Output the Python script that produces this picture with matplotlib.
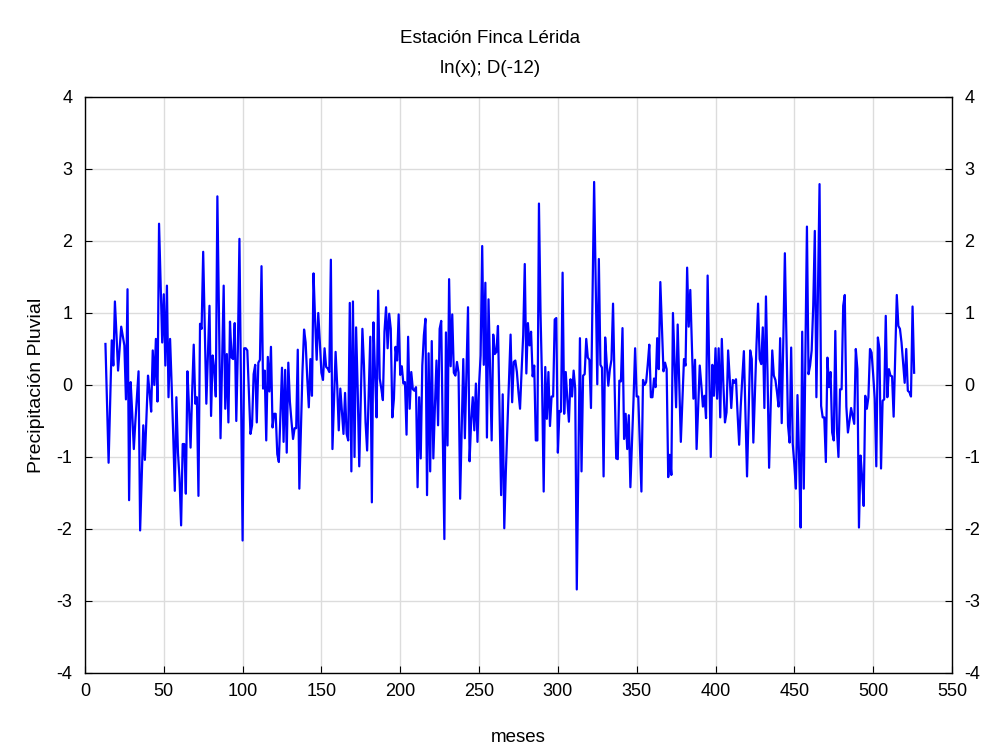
import numpy as np
import matplotlib.pyplot as plt

plt.rcParams['font.family'] = ['Liberation Sans', 'DejaVu Sans']
plt.rcParams['axes.unicode_minus'] = False

# serie diferenciada, un valor por mes (desde el mes 13)
first_month = 13
precip = [
    0.57, -0.25, -1.08, -0.2, 0.62, 0.27, 1.16, 0.7, 0.2, 0.5,
    0.81, 0.68, 0.55, -0.2, 1.33, -1.6, 0.04, -0.4, -0.89, -0.5,
    -0.15, 0.19, -2.02, -1.3, -0.56, -1.04, -0.45, 0.13, -0.1, -0.37,
    0.48, 0.0, 0.64, -0.23, 2.24, 1.4, 0.59, 1.26, 0.27, 1.38,
    -0.17, 0.64, 0.0, -0.7, -1.47, -0.17, -0.94, -1.3, -1.95, -0.82,
    -0.82, -1.51, 0.19, -0.3, -0.87, -0.1, 0.56, -0.26, -0.17, -1.54,
    0.85, 0.78, 1.85, 0.8, -0.26, 0.4, 1.1, -0.43, 0.41, 0.22,
    -0.16, 2.62, 1.0, -0.74, 0.3, 1.38, -0.33, 0.43, -0.52, 0.88,
    0.38, 0.36, 0.86, -0.5, 0.5, 2.03, -0.06, -2.16, 0.51, 0.51,
    0.48, -0.1, -0.68, -0.56, 0.15, 0.28, -0.52, 0.31, 0.35, 1.65,
    -0.05, 0.2, -0.77, 0.39, -0.09, 0.53, -0.59, -0.4, -0.4, -0.96,
    -1.07, -0.4, 0.24, -0.79, 0.21, -0.94, 0.31, -0.23, -0.5, -0.75,
    -0.6, -0.6, 0.49, -1.44, -0.6, 0.2, 0.77, 0.59, 0.1, -0.31,
    0.36, -0.15, 1.55, 0.9, 0.35, 1.0, 0.6, 0.17, 0.07, 0.51,
    0.25, 0.23, 0.18, 1.74, -0.89, -0.2, 0.46, 0.0, -0.63, -0.05,
    -0.36, -0.68, -0.11, -0.68, -0.77, 1.14, -1.2, 1.16, -1.0, 0.8,
    -0.05, -1.13, -0.2, 0.78, 0.27, -0.52, -0.91, -0.1, 0.67, -1.63,
    0.87, 0.17, -0.45, 1.31, 0.09, -0.05, -0.21, 0.74, 1.08, 0.51,
    0.99, 0.78, -0.45, -0.19, 0.53, 0.34, 0.98, 0.14, 0.26, 0.02,
    0.04, -0.69, 0.67, -0.33, 0.18, -0.06, -0.08, -0.03, -1.42, -0.17,
    -1.02, 0.27, 0.69, 0.92, -1.53, 0.44, -1.2, 0.61, -1.02, -0.3,
    0.34, -0.56, 0.78, 0.89, -0.7, -2.14, 0.73, -0.84, 1.47, 0.26,
    0.98, 0.17, 0.13, 0.32, 0.17, -1.58, -0.6, 0.36, -0.74, 0.2,
    1.08, -1.06, -0.5, -0.17, -0.63, 0.02, -0.79, 0.0, 0.41, 1.93,
    0.28, 1.42, -0.73, 1.19, 0.2, -0.77, 0.7, 0.43, 0.46, 0.82,
    -0.35, -1.53, -0.13, -1.99, -1.2, -0.56, 0.1, 0.7, -0.24, 0.32,
    0.34, 0.18, -0.1, -0.33, 0.2, 0.69, 1.68, 0.16, 0.86, 0.55,
    0.74, 0.12, 0.27, -0.77, -0.77, 2.52, 1.0, 0.0, -1.48, 0.25,
    -0.47, 0.18, -0.57, -0.16, -0.16, 0.91, 0.93, -0.94, -0.36, -0.37,
    1.56, -0.4, 0.18, -0.2, -0.51, 0.08, -0.16, 0.2, -0.05, -2.84,
    -1.1, 0.65, -1.2, 0.13, 0.15, 0.64, 0.38, 0.35, -0.32, 1.25,
    2.82, 1.4, 0.01, 1.75, 0.28, 0.24, -1.27, 0.66, 0.3, -0.01,
    0.22, 0.35, 1.13, 0.0, -1.02, -1.03, 0.06, 0.05, 0.79, -0.75,
    -0.4, -0.89, -0.42, -1.42, -0.8, -0.2, 0.51, -0.16, -0.16, -0.8,
    -1.48, 0.07, 0.0, 0.04, 0.28, 0.56, -0.17, -0.17, 0.09, -0.03,
    0.65, 0.22, 1.43, 0.8, 0.19, 0.31, 0.22, -1.28, -0.97, -1.25,
    1.0, 0.35, -0.31, 0.84, 0.0, -0.79, -0.2, 0.36, 0.27, 1.63,
    0.81, 1.32, 0.55, -0.19, 0.35, -0.89, -0.3, 0.27, 0.0, -0.3,
    -0.15, -0.46, 1.52, 0.3, -1.0, 0.28, -0.15, 0.51, -0.19, 0.51,
    -0.45, 0.64, 0.0, -0.52, -0.38, 0.48, 0.1, -0.32, 0.07, 0.03,
    0.08, -0.4, -0.83, -0.3, 0.1, 0.47, -0.4, -1.27, -0.4, 0.48,
    0.36, -0.8, -0.1, 0.56, 1.13, 0.36, 0.29, 0.8, -0.32, 1.23,
    0.15, -1.15, -0.3, 0.48, 0.13, 0.07, -0.1, -0.3, 0.65, -0.53,
    0.6, 1.83, 0.6, -0.56, -0.8, 0.52, -0.82, -1.1, -1.44, -0.14,
    -1.0, -1.98, 0.74, -1.44, 0.4, 2.2, 0.15, 0.27, 0.48, 1.1,
    2.14, -0.17, 1.3, 2.79, -0.29, -0.45, -0.45, -1.07, 0.38, -0.03,
    0.18, -0.66, -0.77, 0.75, -0.61, -1.0, -0.06, -0.06, 1.1, 1.25,
    -0.3, -0.66, -0.5, -0.32, -0.43, -0.54, 0.5, 0.22, -1.98, -0.98,
    -1.28, -1.68, -0.15, -0.33, -0.17, 0.5, 0.45, 0.15, -0.19, -1.13,
    0.66, 0.5, -1.16, -0.22, -0.2, 0.96, -0.17, 0.22, 0.13, 0.12,
    -0.44, 0.4, 1.25, 0.82, 0.78, 0.59, 0.31, 0.03, 0.5, -0.08,
    -0.1, -0.16, 1.09, 0.17,
]
meses = np.arange(first_month, first_month + len(precip))

x_ticks = np.arange(0, 551, 50)
y_ticks = np.arange(-4, 5, 1)

fig = plt.figure(figsize=(9.81, 7.49), dpi=100)
ax = fig.add_axes([0.0866, 0.1015, 0.8838, 0.769])

ax.plot(meses, precip, color='#0000ff', linewidth=1.6)

ax.set_xlim(0, 550)
ax.set_ylim(-4, 4)
ax.set_xticks(x_ticks)
ax.set_yticks(y_ticks)
ax.grid(True, color='#dcdcdc', linewidth=1)
ax.set_axisbelow(True)

ax.tick_params(axis='both', direction='in', length=5, labelsize=13,
               right=True, labelright=True, colors='black')
ax.tick_params(axis='y', pad=9)
ax.tick_params(axis='x', pad=7)
for s in ax.spines.values():
    s.set_color('black')
    s.set_linewidth(1)

ax.set_xlabel('meses', fontsize=13.5, labelpad=21)
ax.set_ylabel('Precipitación Pluvial', fontsize=14, labelpad=8)

fig.text(0.5, 0.948, 'Estación Finca Lérida', ha='center', va='center', fontsize=13.5)
fig.text(0.5, 0.909, 'ln(x); D(-12)', ha='center', va='center', fontsize=13.5)

fig.savefig('out.png', dpi=100)
